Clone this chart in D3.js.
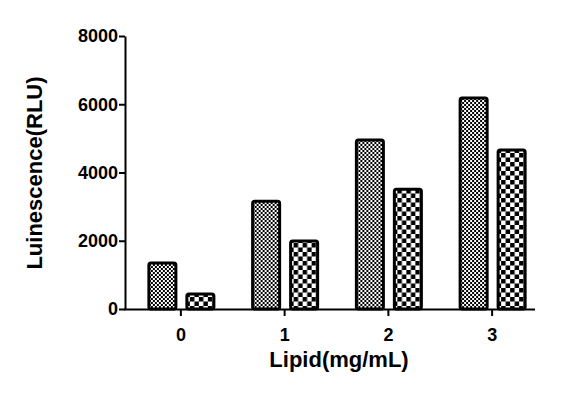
<!DOCTYPE html>
<html>
<head>
<meta charset="utf-8">
<script src="https://cdn.jsdelivr.net/npm/d3@7"></script>
<style>
  body { margin: 0; background: #fff; }
  text { font-family: "Liberation Sans", Arial, sans-serif; font-weight: bold; }
</style>
</head>
<body>
<div id="chart"></div>
<script>
// data
const categories = ["0", "1", "2", "3"];
const seriesNames = ["A", "B"];
const seriesA = [1350, 3160, 4950, 6180];
const seriesB = [440, 1990, 3510, 4660];
const yTicks = [0, 2000, 4000, 6000, 8000];

const width = 568, height = 395;

let svg = d3.select("#chart")
  .append("svg")
  .attr("width", width)
  .attr("height", height);

// patterns for the two series
let defs = svg.append("defs");
let p1 = defs.append("pattern")
  .attr("id", "fine")
  .attr("width", 4).attr("height", 4)
  .attr("patternUnits", "userSpaceOnUse");
p1.append("rect").attr("width", 4).attr("height", 4).attr("fill", "#fff");
p1.append("rect").attr("width", 2).attr("height", 2).attr("fill", "#000");
p1.append("rect").attr("x", 2).attr("y", 2).attr("width", 2).attr("height", 2).attr("fill", "#000");

let p2 = defs.append("pattern")
  .attr("id", "coarse")
  .attr("width", 9).attr("height", 9)
  .attr("patternUnits", "userSpaceOnUse");
p2.append("rect").attr("width", 9).attr("height", 9).attr("fill", "#fff");
p2.append("rect").attr("width", 4.5).attr("height", 4.5).attr("fill", "#000");
p2.append("rect").attr("x", 4.5).attr("y", 4.5).attr("width", 4.5).attr("height", 4.5).attr("fill", "#000");

const fills = ["url(#fine)", "url(#coarse)"];

// scales
let y = d3.scaleLinear().domain([0, 8000]).range([309, 36]);
let x = d3.scaleBand().domain(categories).range([129, 544]);
let xSub = d3.scaleBand().domain(seriesNames).range([-32, 33]).paddingInner(0.289);

let rows = categories.map((c, i) => ({ cat: c, vals: [seriesA[i], seriesB[i]] }));

// bars
let groups = svg.append("g")
  .selectAll("g")
  .data(rows)
  .enter()
  .append("g")
  .attr("transform", d => "translate(" + (x(d.cat) + x.bandwidth() / 2) + ",0)");

groups.selectAll("rect")
  .data(d => d.vals.map((v, j) => ({ key: seriesNames[j], v: v, j: j })))
  .enter()
  .append("rect")
  .attr("x", d => xSub(d.key))
  .attr("y", d => y(d.v))
  .attr("width", xSub.bandwidth())
  .attr("height", d => y(0) - y(d.v))
  .attr("rx", 2)
  .attr("fill", d => fills[d.j])
  .attr("stroke", "#000")
  .attr("stroke-width", 3);

// y axis
let yAxis = svg.append("g")
  .attr("transform", "translate(125,0)")
  .call(d3.axisLeft(y).tickValues(yTicks).tickFormat(d3.format("d")).tickSize(6).tickSizeOuter(0));
yAxis.attr("font-size", null).attr("font-family", null);
yAxis.select(".domain").attr("stroke-width", 2);
yAxis.selectAll(".tick line").attr("stroke-width", 2);
yAxis.selectAll(".tick text").style("font-size", "18px").attr("fill", "#000").attr("x", -7);

// x axis
let xAxis = svg.append("g")
  .attr("transform", "translate(0,309)")
  .call(d3.axisBottom(x).tickSize(7).tickSizeOuter(0));
xAxis.attr("font-size", null).attr("font-family", null);
xAxis.select(".domain").attr("d", "M124,0.5H535").attr("stroke-width", 2);
xAxis.selectAll(".tick line").attr("stroke-width", 2);
xAxis.selectAll(".tick text").style("font-size", "18px").attr("fill", "#000").attr("y", 19);

// axis titles
svg.append("text")
  .attr("x", 339).attr("y", 367)
  .attr("text-anchor", "middle")
  .style("font-size", "22px")
  .text("Lipid(mg/mL)");

svg.append("text")
  .attr("transform", "translate(42,173) rotate(-90)")
  .attr("text-anchor", "middle")
  .style("font-size", "22px")
  .text("Luinescence(RLU)");
</script>
</body>
</html>
